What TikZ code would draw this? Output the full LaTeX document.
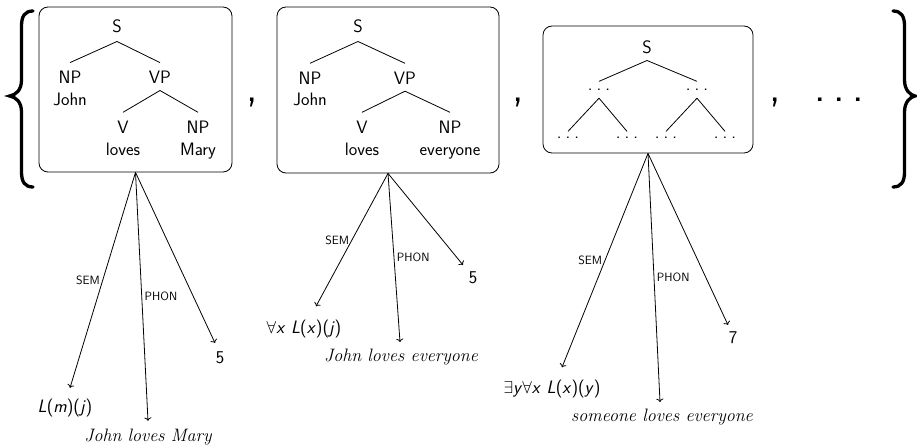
\documentclass[tikz,border=0pt]{standalone}
\usetikzlibrary{arrows.meta}
\newcommand\vv[1]{\textsl{#1}}
\newcommand\tdots{.\kern4pt.\kern4pt.}
\begin{document}
\begin{tikzpicture}[x=1pt,y=-1pt,
  tl/.style={font=\fontsize{18}{21}\selectfont\sffamily, inner sep=0pt, anchor=base},
  td/.style={font=\fontsize{18}{21}\selectfont\sffamily, inner sep=0pt, anchor=base},
  edgeline/.style={line width=0.8pt},
  lab/.style={font=\fontsize{12}{14}\selectfont\sffamily, inner sep=2.5pt},
  outn/.style={font=\fontsize{18}{21}\selectfont\sffamily, inner sep=1pt, anchor=base},
  sent/.style={font=\fontsize{18}{21}\selectfont\rmfamily\itshape, inner sep=1pt, anchor=base},
  box/.style={draw, rounded corners=9pt, line width=0.8pt, inner sep=0pt},
  bigs/.style={font=\fontsize{44}{48}\selectfont\sffamily, inner sep=0pt, anchor=base},
  bracepath/.style={line width=3.3pt, line cap=round},
  arr/.style={->, line width=0.8pt}
]
\useasboundingbox (0,0) rectangle (917,444);

% braces
\draw[bracepath] (33,11) .. controls (25,11) and (21.5,16) .. (21.5,26) -- (21.5,80)
  .. controls (21.5,90) and (16,95) .. (9.5,96) .. controls (16,97) and (21.5,102) .. (21.5,112)
  -- (21.5,172) .. controls (21.5,182) and (25,187) .. (33,187);
\draw[bracepath] (893,11) .. controls (901,11) and (904.5,16) .. (904.5,26) -- (904.5,80)
  .. controls (904.5,90) and (910,95) .. (915,96) .. controls (910,97) and (904.5,102) .. (904.5,112)
  -- (904.5,172) .. controls (904.5,182) and (901,187) .. (893,187);

% commas, dots
\node[bigs] (c1) at (252,101) {,};
\node[bigs] (c2) at (518,101) {,};
\node[bigs] (c3) at (775,101) {,};
\node[bigs] (dd) at (839,101) {.\kern7.5pt.\kern7.5pt.};

% ---------- box 1 ----------
\node[box, minimum width=193pt, minimum height=165pt] (b1) at (135.5,89.5) {};
\node[tl] (s1) at (117,33) {S};
\node[tl] (np1) at (70,83.3) {NP};
\node[tl] (john1) at (70,105) {John};
\node[tl] (vp1) at (160,83.3) {VP};
\node[tl] (v1) at (123,133) {V};
\node[tl] (loves1) at (123,155) {loves};
\node[tl] (npb1) at (198,133) {NP};
\node[tl] (mary1) at (198,155) {Mary};
\draw[edgeline] ([yshift=-8pt]s1.south) -- ([yshift=8pt]np1.north);
\draw[edgeline] ([yshift=-8pt]s1.south) -- ([yshift=8pt]vp1.north);
\draw[edgeline] ([yshift=-7pt]vp1.south) -- ([yshift=8pt]v1.north);
\draw[edgeline] ([yshift=-7pt]vp1.south) -- ([yshift=8pt]npb1.north);

% ---------- box 2 ----------
\node[box, minimum width=222pt, minimum height=166pt] (b2) at (388,90) {};
\node[tl] (s2) at (358,33) {S};
\node[tl] (np2) at (310,84) {NP};
\node[tl] (john2) at (310,105) {John};
\node[tl] (vp2) at (405,84) {VP};
\node[tl] (v2) at (362,133) {V};
\node[tl] (loves2) at (362,155) {loves};
\node[tl] (npb2) at (450,133) {NP};
\node[tl] (every2) at (450,155) {everyone};
\draw[edgeline] ([yshift=-8pt]s2.south) -- ([yshift=8pt]np2.north);
\draw[edgeline] ([yshift=-8pt]s2.south) -- ([yshift=8pt]vp2.north);
\draw[edgeline] ([yshift=-7pt]vp2.south) -- ([yshift=8pt]v2.north);
\draw[edgeline] ([yshift=-7pt]vp2.south) -- ([yshift=8pt]npb2.north);

% ---------- box 3 ----------
\node[box, minimum width=210pt, minimum height=127pt] (b3) at (648,89.5) {};
\node[tl] (s3) at (647,53) {S};
\node[td] (da) at (599,90) {\tdots};
\node[td] (db) at (697,90) {\tdots};
\node[td] (dc) at (568,138) {\tdots};
\node[td] (dd1) at (627,138) {\tdots};
\node[td] (de) at (666,138) {\tdots};
\node[td] (df) at (725,138) {\tdots};
\draw[edgeline] ([yshift=-7pt]s3.south) -- ([yshift=7pt]da.north);
\draw[edgeline] ([yshift=-7pt]s3.south) -- ([yshift=7pt]db.north);
\draw[edgeline] ([yshift=-8pt]da.south) -- ([yshift=5pt]dc.north);
\draw[edgeline] ([yshift=-8pt]da.south) -- ([yshift=5pt]dd1.north);
\draw[edgeline] ([yshift=-8pt]db.south) -- ([yshift=5pt]de.north);
\draw[edgeline] ([yshift=-8pt]db.south) -- ([yshift=5pt]df.north);

% ---------- outputs 1 ----------
\node[outn] (sem1) at (65,412) {\vv{L}(\vv{m})(\vv{j})};
\node[sent] (phon1) at (148,441.5) {John loves Mary};
\node[outn] (num1) at (220,363) {5};
\draw[arr] (b1.south) -- node[lab, left] {SEM} ([xshift=5pt,yshift=9.5pt]sem1.north);
\draw[arr] (b1.south) -- node[lab, right] {PHON} ([yshift=7pt]phon1.north);
\draw[arr] (b1.south) -- ([xshift=-5pt,yshift=7pt]num1.north);

% ---------- outputs 2 ----------
\node[outn] (sem2) at (304,333) {$\forall$\vv{x} \vv{L}(\vv{x})(\vv{j})};
\node[sent] (phon2) at (401,361.7) {John loves everyone};
\node[outn] (num2) at (473,283) {5};
\draw[arr] (b2.south) -- node[lab, left] {SEM} ([xshift=12pt,yshift=12pt]sem2.north);
\draw[arr] (b2.south) -- node[lab, right] {PHON} ([xshift=-1pt,yshift=6pt]phon2.north);
\draw[arr] (b2.south) -- ([xshift=-10pt,yshift=5pt]num2.north);

% ---------- outputs 3 ----------
\node[outn] (sem3) at (552,393) {$\exists$\vv{y}$\forall$\vv{x} \vv{L}(\vv{x})(\vv{y})};
\node[sent] (phon3) at (662,421.7) {someone loves everyone};
\node[outn] (num3) at (733,343) {7};
\draw[arr] (b3.south) -- node[lab, left] {SEM} ([xshift=10pt,yshift=11pt]sem3.north);
\draw[arr] (b3.south) -- node[lab, right] {PHON} ([xshift=-2pt,yshift=6pt]phon3.north);
\draw[arr] (b3.south) -- ([xshift=-5pt,yshift=5pt]num3.north);
\end{tikzpicture}
\end{document}
